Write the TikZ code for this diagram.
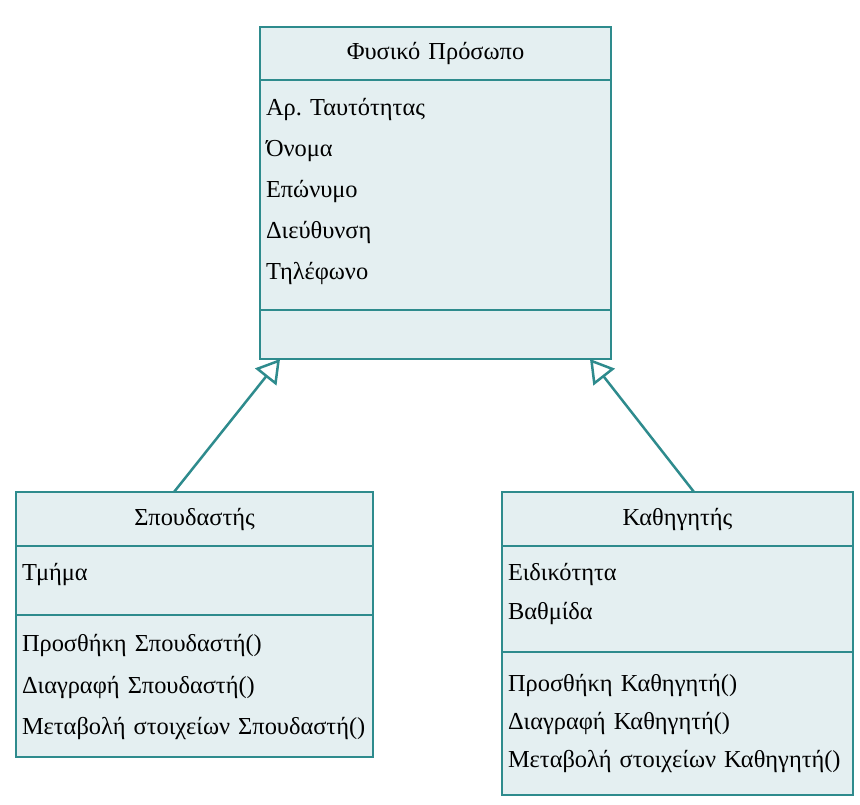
\documentclass[tikz,border=0pt]{standalone}
\usepackage{fontspec}
\setmainfont{Liberation Serif}
\frenchspacing
\usetikzlibrary{arrows.meta}
\usetikzlibrary{positioning}
\usetikzlibrary{calc}

\definecolor{umlteal}{RGB}{46,139,141}
\definecolor{umlfill}{RGB}{228,239,241}

\tikzset{
  classbox/.style={draw=umlteal, fill=umlfill, line width=1.25pt, outer sep=0pt, inner xsep=3pt, inner ysep=0pt, font=\fontsize{12.2}{20.5}\selectfont},
  classname/.style={classbox, align=center, anchor=north west},
  classpart/.style={classbox, align=left},
  inherits/.style={draw=umlteal, line width=1.25pt, -{Triangle[open, length=11.5pt, width=13.5pt]}}
}

\begin{document}
\begin{tikzpicture}[x=0.5pt, y=-0.5pt]
        \useasboundingbox (0,0) rectangle (860,804);

        % Φυσικό Πρόσωπο
        \node[classname, text width=169.5pt, minimum height=26.5pt] (personname) at (260,27) {Φυσικό Πρόσωπο};
        \node[classpart, text width=169.5pt, text height=17.75pt, text depth=97.25pt, below=0pt of personname] (personattr) {Αρ. Ταυτότητας\\ Όνομα\\ Επώνυμο\\ Διεύθυνση\\ Τηλέφωνο};
        \node[classpart, text width=169.5pt, minimum height=24.5pt, below=0pt of personattr] (personops) {};

        % Σπουδαστής
        \node[classname, text width=172.5pt, minimum height=27pt] (studentname) at (16,492) {Σπουδαστής};
        \node[classpart, text width=172.5pt, text height=17pt, text depth=17.5pt, below=0pt of studentname] (studentattr) {Τμήμα};
        \node[classpart, text width=172.5pt, text height=18.25pt, text depth=52.75pt, font=\fontsize{12.2}{20.75}\selectfont, below=0pt of studentattr] (studentops) {Προσθήκη Σπουδαστή()\\ Διαγραφή Σπουδαστή()\\ \mbox{Μεταβολή στοιχείων Σπουδαστή()}};

        % Καθηγητής
        \node[classname, text width=169.5pt, minimum height=27pt] (profname) at (502,492) {Καθηγητής};
        \node[classpart, text width=169.5pt, text height=17pt, text depth=36pt, font=\fontsize{12.2}{19.5}\selectfont, below=0pt of profname] (profattr) {Ειδικότητα\\ Βαθμίδα};
        \node[classpart, text width=169.5pt, text height=19.75pt, text depth=51.75pt, font=\fontsize{12.2}{19}\selectfont, below=0pt of profattr] (profops) {Προσθήκη Καθηγητή()\\ Διαγραφή Καθηγητή()\\ \mbox{Μεταβολή στοιχείων Καθηγητή()}};

        \draw[inherits] ($(studentname.north west)+(158,0)$) -- ($(personops.south west)+(20,0)$);
        \draw[inherits] ($(profname.north west)+(192,0)$) -- ($(personops.south east)+(-21,0)$);
\end{tikzpicture}
\end{document}
